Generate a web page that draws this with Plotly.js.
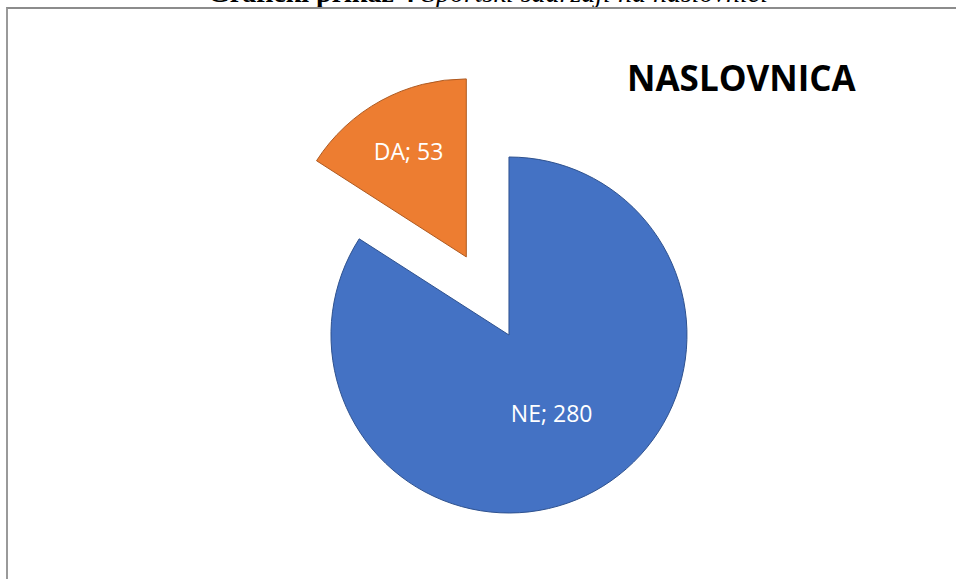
<!DOCTYPE html>
<html>
<head>
<meta charset="utf-8">
<script src="https://cdn.plot.ly/plotly-3.0.1.min.js"></script>
<style>
  html, body { margin: 0; padding: 0; background: #ffffff; overflow: hidden; width: 956px; height: 579px; }
  #chart { position: absolute; left: 0; top: 0; width: 956px; height: 602px; }
  #frame { position: absolute; left: 6px; top: 7px; width: 950px; height: 600px;
           border-top: 2px solid #8c8c8c; border-left: 2px solid #9a9a9a; pointer-events: none; z-index: 5; }
</style>
</head>
<body>
<div id="chart"></div>
<div id="frame"></div>
<script>
// Data
const categories = ["NE", "DA"];
const values = [280, 53];
const sliceColors = ["#4472C4", "#ED7D31"];
const outlineColors = ["#2F528F", "#AE5A21"];
const pulls = [0, 0.5];
const chartTitle = "NASLOVNICA";
const captionBold = "Grafički prikaz 4";
const captionItalic = "Sportski sadržaji na naslovnici";

const trace = {
  type: "pie",
  labels: categories,
  values: values,
  sort: false,
  direction: "clockwise",
  rotation: 0,
  pull: pulls,
  marker: { colors: sliceColors, line: { color: outlineColors, width: 1 } },
  texttemplate: "%{label}; %{value}",
  textposition: "inside",
  insidetextorientation: "horizontal",
  textfont: { family: "Open Sans, sans-serif", size: 23, color: "#ffffff" },
  hoverinfo: "label+value",
  showlegend: false,
  domain: { x: [0.2531, 0.8117], y: [0, 1] }
};

const layout = {
  width: 956,
  height: 602,
  margin: { l: 0, r: 0, t: 68, b: 0 },
  paper_bgcolor: "#ffffff",
  plot_bgcolor: "#ffffff",
  showlegend: false,
  annotations: [
    {
      text: chartTitle,
      xref: "paper", yref: "paper",
      x: 0.776, y: 0.9813,
      xanchor: "center", yanchor: "middle",
      showarrow: false,
      font: { family: "Open Sans, sans-serif", size: 35, color: "#000000", weight: "bold" }
    },
    {
      text: "<b>" + captionBold + "</b> <i>" + captionItalic + "</i>",
      xref: "paper", yref: "paper",
      x: 488 / 956, y: 1.1086,
      xanchor: "center", yanchor: "bottom",
      showarrow: false,
      font: { family: "Liberation Serif, Times New Roman, serif", size: 28, color: "#000000" }
    }
  ]
};

Plotly.newPlot("chart", [trace], layout, { displayModeBar: false, responsive: false, staticPlot: false });
</script>
</body>
</html>
